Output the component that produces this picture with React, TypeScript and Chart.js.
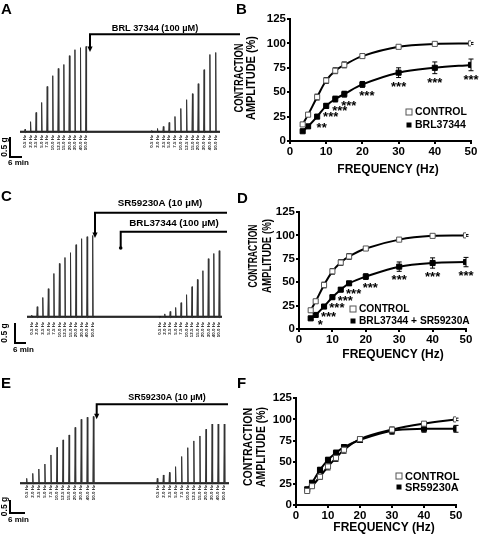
import React, { useEffect, useRef } from "react";
import { Chart, registerables } from "chart.js";
Chart.register(...registerables);

const FONT = '"Liberation Sans", Arial, Helvetica, sans-serif';

// ---------- Trace panels (A, C, E): twitch amplitude in g ----------
const stimLabels = ["0.5 Hz", "2.0 Hz", "3.5 Hz", "5.0 Hz", "7.5 Hz", "10.0 Hz", "12.5 Hz", "15.0 Hz", "20.0 Hz", "30.0 Hz", "40.0 Hz", "50.0 Hz"];
const tensionA_before = [0.06, 0.25, 0.48, 0.73, 1.13, 1.4, 1.58, 1.68, 1.9, 2.05, 2.1, 2.13];
const tensionA_after = [0.03, 0.08, 0.13, 0.23, 0.38, 0.58, 0.8, 0.95, 1.2, 1.55, 1.93, 1.98];
const tensionC_before = [0.04, 0.25, 0.48, 0.7, 1.08, 1.33, 1.48, 1.6, 1.8, 1.95, 2.0, 2.03];
const tensionC_after = [0.0, 0.07, 0.13, 0.23, 0.35, 0.55, 0.75, 0.93, 1.15, 1.45, 1.58, 1.65];
const tensionE_before = [0.19, 0.38, 0.55, 0.74, 1.09, 1.38, 1.67, 1.86, 2.15, 2.46, 2.54, 2.57];
const tensionE_after = [0.19, 0.32, 0.42, 0.64, 1.03, 1.37, 1.63, 1.82, 2.08, 2.28, 2.28, 2.28];
const scaleBarG = 0.5;

// ---------- Frequency-response panels (B, D, F) ----------
const frequencyHz = [3.5, 5, 7.5, 10, 12.5, 15, 20, 30, 40, 50];
const xTicksHz = [0, 10, 20, 30, 40, 50];
const yTicksPct = [0, 25, 50, 75, 100, 125];

const controlB = [17, 27, 45, 62, 72, 78, 87, 96.5, 99.5, 100];
const controlBErr = [2, 2, 3, 3, 3, 3, 2, 1.5, 1, 1];
const brlB = [10, 15, 25, 36, 43, 48, 58, 70, 75, 78];
const brlBErr = [1, 1.5, 2, 2.5, 3, 3, 3, 5, 6, 6];
const sigB = ["", "", "**", "***", "***", "***", "***", "***", "***", "***"];

const controlD = [20, 29.6, 47, 61.6, 71, 77.5, 86, 95.5, 99.5, 100];
const controlDErr = [2, 2, 3, 3, 3, 3, 2, 1, 1, 1];
const brlSrD = [11.4, 15, 24, 34, 42, 48.8, 56, 66.6, 70.5, 71.5];
const brlSrDErr = [1, 1.5, 2, 2, 2, 2, 3, 5, 5.5, 5];
const sigD = ["", "*", "***", "***", "***", "***", "***", "***", "***", "***"];

const controlF = [16.4, 22, 33, 45, 55, 64.5, 77, 88, 95, 100];
const controlFErr = [2, 2, 3, 4, 4, 4, 3, 3, 2, 1.5];
const srF = [18.4, 26, 41, 52.7, 61, 67.6, 76, 86.7, 89, 89];
const srFErr = [1.5, 2, 3, 3, 3, 3, 3, 4, 4, 4];
const sigF = ["", "", "", "", "", "", "", "", "", ""];

// ---------- layouts ----------
type Drug = { label: string; x: number; lineY: number; tipY: number; endX: number; textX: number; textY: number; fontPx: number; head: "arrow" | "dot" };
type TraceLayout = {
  letter: string; letterY: number; left: number; top: number; w: number; h: number;
  baseY: number; pxPerG: number; x0: number; dx: number; x1: number; dx1: number;
  startX: number; endX: number; labelTop: number; drugs: Drug[];
  bar: { x: number; y: number; w: number; gLabelX: number; minY: number };
  before: number[]; after: number[];
};

const traceA: TraceLayout = {
  letter: "A", letterY: 14, left: 0, top: 0, w: 240, h: 172,
  baseY: 131.7, pxPerG: 40, x0: 25, dx: 5.55, x1: 151.7, dx1: 5.82, startX: 20, endX: 220, labelTop: 135,
  drugs: [{ label: "BRL 37344 (100 µM)", x: 90, lineY: 34.3, tipY: 52, endX: 240, textX: 155, textY: 28, fontPx: 9.2, head: "arrow" }],
  bar: { x: 10, y: 157, w: 12, gLabelX: 5, minY: 163 },
  before: tensionA_before, after: tensionA_after,
};
const traceC: TraceLayout = {
  letter: "C", letterY: 29, left: 0, top: 172, w: 240, h: 184,
  baseY: 144.7, pxPerG: 40, x0: 31.7, dx: 5.545, x1: 159.3, dx1: 5.45, startX: 27, endX: 222, labelTop: 150,
  drugs: [
    { label: "SR59230A (10 µM)", x: 95, lineY: 40.7, tipY: 66, endX: 227, textX: 160, textY: 31, fontPx: 9.8, head: "arrow" },
    { label: "BRL37344 (100 µM)", x: 120.7, lineY: 59.7, tipY: 76, endX: 227, textX: 174, textY: 51, fontPx: 9.8, head: "dot" },
  ],
  bar: { x: 15, y: 171, w: 11, gLabelX: 5, minY: 178 },
  before: tensionC_before, after: tensionC_after,
};
const traceE: TraceLayout = {
  letter: "E", letterY: 36, left: 0, top: 352, w: 240, h: 184,
  baseY: 131.3, pxPerG: 26, x0: 26.7, dx: 6.06, x1: 157.3, dx1: 6.09, startX: 20, endX: 229, labelTop: 133,
  drugs: [{ label: "SR59230A (10 µM)", x: 96.7, lineY: 52.3, tipY: 67.3, endX: 228, textX: 167, textY: 45.7, fontPx: 9, head: "arrow" }],
  bar: { x: 10, y: 161, w: 15, gLabelX: 5, minY: 168 },
  before: tensionE_before, after: tensionE_after,
};

type CurveLayout = {
  letter: string; letterX: number; letterY: number; left: number; top: number; w: number; h: number;
  area: { l: number; r: number; t: number; b: number };
  ctrl: number[]; ctrlErr: number[]; trt: number[]; trtErr: number[]; sig: string[];
  names: string[]; legend: { x: number; y1: number; y2: number; font: number };
  xTitle: { x: number; y: number };
  yTitle: { x1: number; x2: number; cy: number; w1: number; w2: number };
};

const curveB: CurveLayout = {
  letter: "B", letterX: 4, letterY: 14, left: 232, top: 0, w: 248, h: 180,
  area: { l: 58, r: 239, t: 19, b: 141 },
  ctrl: controlB, ctrlErr: controlBErr, trt: brlB, trtErr: brlBErr, sig: sigB,
  names: ["CONTROL", "BRL37344"], legend: { x: 177, y1: 112, y2: 125, font: 10.5 },
  xTitle: { x: 156, y: 170 },
  yTitle: { x1: 7.5, x2: 20, cy: 78, w1: 69, w2: 84 },
};
const curveD: CurveLayout = {
  letter: "D", letterX: 5, letterY: 23, left: 232, top: 180, w: 248, h: 185,
  area: { l: 67, r: 234, t: 32, b: 149 },
  ctrl: controlD, ctrlErr: controlDErr, trt: brlSrD, trtErr: brlSrDErr, sig: sigD,
  names: ["CONTROL", "BRL37344 + SR59230A"], legend: { x: 121, y1: 129, y2: 141, font: 10.2 },
  xTitle: { x: 161, y: 175 },
  yTitle: { x1: 21.5, x2: 35.7, cy: 76, w1: 63, w2: 74 },
};
const curveF: CurveLayout = {
  letter: "F", letterX: 5, letterY: 23, left: 232, top: 365, w: 248, h: 171,
  area: { l: 64, r: 224, t: 33, b: 140 },
  ctrl: controlF, ctrlErr: controlFErr, trt: srF, trtErr: srFErr, sig: sigF,
  names: ["CONTROL", "SR59230A"], legend: { x: 167, y1: 111, y2: 122, font: 11 },
  xTitle: { x: 152, y: 163 },
  yTitle: { x1: 17, x2: 30, cy: 82, w1: 78, w2: 80 },
};

// ---------- chart builders ----------
function traceConfig(L: TraceLayout): any {
  const spikeX = (i: number, seg: number) => (seg === 0 ? L.x0 + i * L.dx : L.x1 + i * L.dx1);
  const pts: { x: number; y: number }[] = [{ x: L.startX, y: 0 }];
  [L.before, L.after].forEach((arr, seg) =>
    arr.forEach((g, i) => {
      const x = spikeX(i, seg);
      pts.push({ x: x - 0.5, y: 0 }, { x, y: g }, { x: x + 0.5, y: -0.025 }, { x: x + 1.6, y: 0 });
    })
  );
  pts.push({ x: L.endX, y: 0 });
  const yMax = L.baseY / L.pxPerG;
  const yMin = -(L.h - L.baseY) / L.pxPerG;

  const plugin = {
    id: "traceExtras" + L.letter,
    afterDraw(chart: any) {
      const ctx = chart.ctx as CanvasRenderingContext2D;
      const xs = chart.scales.x;
      const ys = chart.scales.y;
      ctx.save();
      ctx.fillStyle = "#111";
      // stimulation frequency labels
      ctx.font = `bold 4.4px ${FONT}`;
      ctx.textAlign = "right";
      ctx.textBaseline = "middle";
      [L.before, L.after].forEach((arr, seg) =>
        arr.forEach((_g, i) => {
          const px = xs.getPixelForValue(spikeX(i, seg));
          ctx.save();
          ctx.translate(px, L.labelTop);
          ctx.rotate(-Math.PI / 2);
          ctx.fillText(stimLabels[i], 0, 0);
          ctx.restore();
        })
      );
      // drug application brackets
      ctx.strokeStyle = "#000";
      ctx.fillStyle = "#000";
      for (const d of L.drugs) {
        const ax = xs.getPixelForValue(d.x);
        ctx.lineWidth = 2;
        ctx.beginPath();
        ctx.moveTo(xs.getPixelForValue(d.endX), d.lineY);
        ctx.lineTo(ax, d.lineY);
        ctx.lineTo(ax, d.head === "arrow" ? d.tipY - 4 : d.tipY);
        ctx.stroke();
        ctx.beginPath();
        if (d.head === "arrow") {
          ctx.moveTo(ax - 2.6, d.tipY - 5.5);
          ctx.lineTo(ax + 2.6, d.tipY - 5.5);
          ctx.lineTo(ax, d.tipY);
          ctx.closePath();
        } else {
          ctx.arc(ax, d.tipY, 1.8, 0, Math.PI * 2);
        }
        ctx.fill();
        ctx.font = `bold ${d.fontPx}px ${FONT}`;
        ctx.textAlign = "center";
        ctx.textBaseline = "middle";
        ctx.fillText(d.label, d.textX, d.textY);
      }
      // scale bar
      const y0 = ys.getPixelForValue(0);
      const gPx = y0 - ys.getPixelForValue(scaleBarG);
      ctx.lineWidth = 2;
      ctx.beginPath();
      ctx.moveTo(L.bar.x, L.bar.y - gPx);
      ctx.lineTo(L.bar.x, L.bar.y);
      ctx.lineTo(L.bar.x + L.bar.w, L.bar.y);
      ctx.stroke();
      ctx.font = `bold 8.5px ${FONT}`;
      ctx.save();
      ctx.translate(L.bar.gLabelX, L.bar.y - gPx / 2);
      ctx.rotate(-Math.PI / 2);
      ctx.textAlign = "center";
      ctx.textBaseline = "middle";
      ctx.fillText("0.5 g", 0, 0);
      ctx.restore();
      ctx.font = `bold 8px ${FONT}`;
      ctx.textAlign = "left";
      ctx.textBaseline = "middle";
      ctx.fillText("6 min", L.bar.x - 2, L.bar.minY);
      // panel letter
      ctx.font = `bold 15px ${FONT}`;
      ctx.textAlign = "left";
      ctx.textBaseline = "alphabetic";
      ctx.fillText(L.letter, 1, L.letterY);
      ctx.restore();
    },
  };

  return {
    type: "line",
    data: {
      datasets: [
        { data: pts, borderColor: "#333", borderWidth: 1, pointRadius: 0, tension: 0, fill: false },
        { data: [{ x: L.startX, y: 0 }, { x: L.endX, y: 0 }], borderColor: "#000", borderWidth: 2, pointRadius: 0, fill: false },
      ],
    },
    options: {
      responsive: false,
      animation: false,
      devicePixelRatio: 1,
      layout: { padding: 0 },
      plugins: { legend: { display: false }, tooltip: { enabled: false } },
      scales: {
        x: { type: "linear", display: false, min: 0, max: L.w },
        y: { type: "linear", display: false, min: yMin, max: yMax },
      },
    },
    plugins: [plugin],
  };
}

function curveConfig(P: CurveLayout): any {
  const tickFont = { family: FONT, size: 11.5, weight: "bold" as const };
  const series = [
    { vals: P.ctrl, errs: P.ctrlErr },
    { vals: P.trt, errs: P.trtErr },
  ];
  const plugin = {
    id: "curveExtras" + P.letter,
    beforeDatasetsDraw(chart: any) {
      const ctx = chart.ctx as CanvasRenderingContext2D;
      const xs = chart.scales.x;
      const ys = chart.scales.y;
      ctx.save();
      ctx.strokeStyle = "#000";
      ctx.lineWidth = 1;
      for (const s of series) {
        s.vals.forEach((v, i) => {
          const px = xs.getPixelForValue(frequencyHz[i]);
          const yTop = ys.getPixelForValue(v + s.errs[i]);
          const yBot = ys.getPixelForValue(v - s.errs[i]);
          ctx.beginPath();
          ctx.moveTo(px, yTop);
          ctx.lineTo(px, yBot);
          ctx.moveTo(px - 2.5, yTop);
          ctx.lineTo(px + 2.5, yTop);
          ctx.moveTo(px - 2.5, yBot);
          ctx.lineTo(px + 2.5, yBot);
          ctx.stroke();
        });
      }
      ctx.restore();
    },
    afterDraw(chart: any) {
      const ctx = chart.ctx as CanvasRenderingContext2D;
      const xs = chart.scales.x;
      const ys = chart.scales.y;
      ctx.save();
      ctx.fillStyle = "#000";
      // significance stars under treated points
      ctx.font = `bold 13px ${FONT}`;
      ctx.textAlign = "center";
      ctx.textBaseline = "alphabetic";
      P.sig.forEach((s, i) => {
        if (!s) return;
        const f = frequencyHz[i];
        const px = xs.getPixelForValue(f) + (f <= 20 ? 4.5 : 0);
        const yb = ys.getPixelForValue(P.trt[i] - P.trtErr[i]);
        ctx.fillText(s, px, yb + 13);
      });
      // legend
      ctx.font = `bold ${P.legend.font}px ${FONT}`;
      ctx.textAlign = "left";
      ctx.textBaseline = "middle";
      ctx.fillStyle = "#fff";
      ctx.fillRect(P.legend.x - 3, P.legend.y1 - 3, 6, 6);
      ctx.strokeStyle = "#555";
      ctx.lineWidth = 1;
      ctx.strokeRect(P.legend.x - 3, P.legend.y1 - 3, 6, 6);
      ctx.fillStyle = "#000";
      ctx.fillRect(P.legend.x - 2.5, P.legend.y2 - 2.5, 5, 5);
      ctx.fillText(P.names[0], P.legend.x + 6, P.legend.y1 + 0.5);
      ctx.fillText(P.names[1], P.legend.x + 6, P.legend.y2 + 0.5);
      // axis titles
      ctx.font = `bold 12px ${FONT}`;
      ctx.textAlign = "center";
      ctx.textBaseline = "middle";
      ctx.fillText("FREQUENCY (Hz)", P.xTitle.x, P.xTitle.y);
      ctx.save();
      ctx.translate(P.yTitle.x1, P.yTitle.cy);
      ctx.rotate(-Math.PI / 2);
      ctx.font = `bold 12.5px ${FONT}`;
      ctx.fillText("CONTRACTION", 0, 0, P.yTitle.w1);
      ctx.restore();
      ctx.save();
      ctx.translate(P.yTitle.x2, P.yTitle.cy);
      ctx.rotate(-Math.PI / 2);
      ctx.font = `bold 12.5px ${FONT}`;
      ctx.fillText("AMPLITUDE (%)", 0, 0, P.yTitle.w2);
      ctx.restore();
      // panel letter
      ctx.font = `bold 15px ${FONT}`;
      ctx.textAlign = "left";
      ctx.textBaseline = "alphabetic";
      ctx.fillText(P.letter, P.letterX, P.letterY);
      ctx.restore();
    },
  };

  const lineStyle = {
    borderColor: "#000",
    borderWidth: 2,
    tension: 0.35,
    pointStyle: "rect",
    pointRadius: 3.6,
    pointBorderWidth: 1,
    fill: false,
  };

  return {
    type: "line",
    data: {
      datasets: [
        {
          ...lineStyle,
          label: P.names[0],
          data: frequencyHz.map((x, i) => ({ x, y: P.ctrl[i] })),
          pointBackgroundColor: "#fff",
          pointBorderColor: "#555",
        },
        {
          ...lineStyle,
          label: P.names[1],
          data: frequencyHz.map((x, i) => ({ x, y: P.trt[i] })),
          pointBackgroundColor: "#000",
          pointBorderColor: "#000",
        },
      ],
    },
    options: {
      responsive: false,
      animation: false,
      devicePixelRatio: 1,
      layout: { padding: { left: 0, top: P.area.t, right: P.w - P.area.r, bottom: 0 } },
      plugins: { legend: { display: false }, tooltip: { enabled: false } },
      scales: {
        x: {
          type: "linear",
          min: xTicksHz[0],
          max: xTicksHz[xTicksHz.length - 1],
          afterFit: (s: any) => { s.height = P.h - P.area.b; },
          afterBuildTicks: (s: any) => { s.ticks = xTicksHz.map((v) => ({ value: v })); },
          ticks: { font: tickFont, color: "#000", padding: 1, maxRotation: 0, autoSkip: false },
          grid: { drawOnChartArea: false, drawTicks: true, tickLength: 3, color: "#000", lineWidth: 2 },
          border: { display: true, color: "#000", width: 2 },
        },
        y: {
          type: "linear",
          min: yTicksPct[0],
          max: yTicksPct[yTicksPct.length - 1],
          afterFit: (s: any) => { s.width = P.area.l; },
          afterBuildTicks: (s: any) => { s.ticks = yTicksPct.map((v) => ({ value: v })); },
          ticks: { font: tickFont, color: "#000", padding: 1, autoSkip: false },
          grid: { drawOnChartArea: false, drawTicks: true, tickLength: 3, color: "#000", lineWidth: 2 },
          border: { display: true, color: "#000", width: 2 },
        },
      },
    },
    plugins: [plugin],
  };
}

function ChartBox(props: { left: number; top: number; w: number; h: number; make: () => any }) {
  const ref = useRef<HTMLCanvasElement | null>(null);
  useEffect(() => {
    const chart = new Chart(ref.current as HTMLCanvasElement, props.make());
    return () => chart.destroy();
  }, []);
  return (
    <canvas
      ref={ref}
      width={props.w}
      height={props.h}
      style={{ position: "absolute", left: props.left, top: props.top, width: props.w, height: props.h }}
    />
  );
}

export default function App() {
  const traces = [traceA, traceC, traceE];
  const curves = [curveB, curveD, curveF];
  return (
    <div style={{ position: "absolute", left: 0, top: 0, width: 480, height: 536, background: "#fff", overflow: "hidden" }}>
      {traces.map((L) => (
        <ChartBox key={L.letter} left={L.left} top={L.top} w={L.w} h={L.h} make={() => traceConfig(L)} />
      ))}
      {curves.map((P) => (
        <ChartBox key={P.letter} left={P.left} top={P.top} w={P.w} h={P.h} make={() => curveConfig(P)} />
      ))}
    </div>
  );
}
